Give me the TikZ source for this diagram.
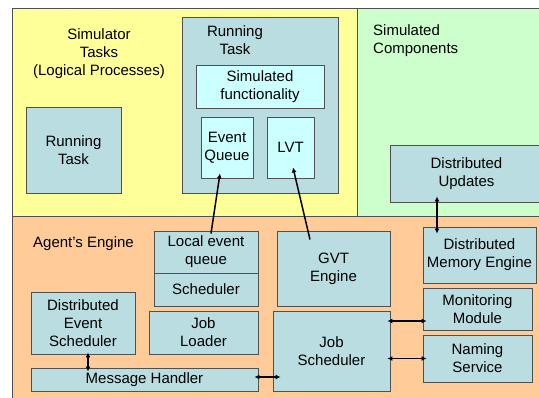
\documentclass[tikz,border=0pt]{standalone}
\usepackage{fontspec}
\setmainfont{Liberation Sans}
\usetikzlibrary{arrows.meta,calc}

\definecolor{simyellow}{HTML}{FFFF99}
\definecolor{simgreen}{HTML}{CCFFCC}
\definecolor{engorange}{HTML}{FFCC99}
\definecolor{boxteal}{HTML}{B9DDE0}
\definecolor{boxcyan}{HTML}{CCFFFF}
\definecolor{edgegray}{HTML}{505050}

\tikzset{
  region/.style={draw=edgegray, line width=0.9pt},
  modbox/.style={draw=edgegray, fill=boxteal, line width=0.9pt, align=center,
    inner sep=0pt, font=\fontsize{15}{18}\selectfont},
  subbox/.style={modbox, fill=boxcyan},
  lbl/.style={inner sep=0pt, font=\fontsize{15}{18}\selectfont},
  arr/.style={line width=1.5pt, -{Latex[length=5pt,width=5pt]}},
  dbl/.style={line width=1.5pt, {Latex[length=5pt,width=5pt]}-{Latex[length=5pt,width=5pt]}}
}

% \blk{name}{x1}{y1}{x2}{y2}{style}{text} in pixel coordinates (y down)
\newcommand\blk[7]{%
  \node[#6, minimum width={(#4-#2)*1pt}, minimum height={(#5-#3)*1pt}]
    (#1) at ({(#2+#4)/2},{(#3+#5)/2}) {#7};}

\begin{document}
\begin{tikzpicture}[x=1pt,y=-1pt]
\useasboundingbox (0,0) rectangle (539,398);
\fill[white] (0,0) rectangle (539,398);

% three areas
\draw[region, fill=simyellow] (12,8) rectangle (357,216);
\draw[region, fill=simgreen] (357,8) rectangle (570,216);
\draw[region, fill=engorange] (12,216) rectangle (570,430);

% area captions
\node[lbl, align=center] (simtasks) at (99,54) {Simulator\\Tasks\\(Logical Processes)};
\node[lbl, align=left, anchor=west] (simcomp) at (373,41) {Simulated\\Components};
\node[lbl, anchor=west] (agent) at (33,244) {Agent's Engine};

% simulator tasks
\blk{rtask}{26}{107}{121}{193}{modbox}{Running\\Task}
\blk{rtaskbig}{182}{17}{338}{193}{modbox}{}
\node[lbl, align=center] (rtasklbl) at (235,40) {Running\\Task};
\blk{simfunc}{196}{65}{324}{108}{subbox}{Simulated\\functionality}
\blk{evq}{201}{117}{253}{178}{subbox}{Event\\Queue}
\blk{lvt}{267}{117}{314}{178}{subbox}{LVT}

% simulated components
\blk{dupd}{390}{145}{543}{202}{modbox}{Distributed\\Updates}

% agent's engine
\blk{localq}{154}{231}{258}{273}{modbox}{Local event\\queue}
\blk{sched}{154}{273}{258}{306}{modbox}{Scheduler}
\blk{jobload}{149}{311}{258}{354}{modbox}{Job\\Loader}
\blk{des}{31}{292}{135}{354}{modbox}{Distributed\\Event\\Scheduler}
\blk{msg}{31}{368}{258}{391}{modbox}{Message Handler}
\blk{gvt}{277}{231}{390}{306}{modbox}{GVT\\Engine}
\blk{jobs}{273}{311}{390}{391}{modbox}{Job\\Scheduler}
\blk{dme}{423}{227}{536}{283}{modbox}{Distributed\\Memory Engine}
\blk{monitor}{423}{288}{532}{330}{modbox}{Monitoring\\Module}
\blk{naming}{423}{335}{532}{382}{modbox}{Naming\\Service}

% connectors
\draw[arr] ($(localq.north)+(5,3)$) -- ($(evq.south)+(-7,-5)$);
\draw[arr] ($(gvt.north)+(-23.5,9)$) -- ($(lvt.south)+(2.5,-11)$);
\draw[dbl] ($(dupd.south)+(-29.5,-6)$) -- ($(dme.north)+(-42.5,7)$);
\draw[dbl] ($(jobs.east |- monitor.west)+(-3,12)$) -- ($(monitor.west)+(4,12)$);
\draw[dbl] ($(jobs.east |- naming.west)+(-3,0)$) -- ($(naming.west)+(4,0)$);
\draw[dbl] ($(msg.east)+(-4,-2.5)$) -- ($(jobs.west |- msg.east)+(8,-2.5)$);
\draw[dbl] ($(des.south)+(5,-2)$) -- ($(msg.north -| des.south)+(5,4)$);
\end{tikzpicture}
\end{document}
